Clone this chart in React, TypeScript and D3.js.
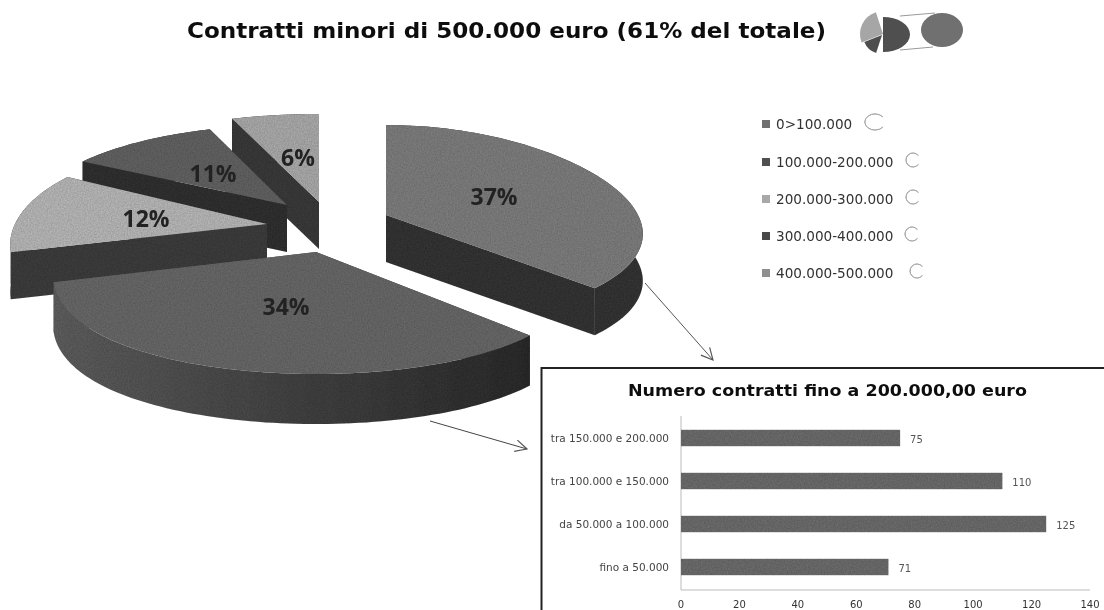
import React from "react";
import * as d3 from "d3";

const title = "Contratti minori di 500.000 euro (61% del totale)";
const pieLabels = ["37%", "34%", "12%", "11%", "6%"];
const pieValues = [37, 34, 12, 11, 6];
const pieTop = ["#7d7d7d", "#686868", "#b6b6b6", "#626262", "#a9a9a9"];
const pieWall = ["#363636", "url(#wall34)", "#3c3c3c", "#323232", "#3a3a3a"];
const pieApex: [number, number][] = [[386, 215], [316, 252], [267, 224], [287, 205], [319, 202]];
const pieRx = [252, 258, 252, 258, 290];
const pieRy = [100, 122, 108, 100, 110];
const pieKy = [0.1, 0, 0.2, 0.2, 0.2];
const pieDepth = [47, 50, 47, 47, 47];
const pieLabelPos: [number, number][] = [[494, 197], [286, 307], [146, 219], [213, 174], [298, 158]];
const drawOrder = [4, 3, 2, 0, 1];

const legendLabels = ["0>100.000", "100.000-200.000", "200.000-300.000", "300.000-400.000", "400.000-500.000"];
const legendColors = ["#6f6f6f", "#4f4f4f", "#a8a8a8", "#4a4a4a", "#8f8f8f"];
const legendY = [124, 162, 199, 236, 273];
const legendArcX = [875, 913, 913, 912, 917];

const barTitle = "Numero contratti fino a 200.000,00 euro";
const barCats = ["tra 150.000 e 200.000", "tra 100.000 e 150.000", "da 50.000 a 100.000", "fino a 50.000"];
const barVals = [75, 110, 125, 71];
const xTicks = [0, 20, 40, 60, 80, 100, 120, 140];

const FONT = "'DejaVu Sans', sans-serif";
const K = 0.2;

function proj(a: number, i: number, dy = 0): [number, number] {
  const [cx, cy] = pieApex[i];
  const p = -Math.cos(a);
  return [cx + pieRx[i] * Math.sin(a) * (1 + K * p), cy + pieRy[i] * p * (1 + pieKy[i] * p) + dy];
}
const line = d3.line<[number, number]>();
const arcs = d3.pie<number>().sort(null)(pieValues);

function samples(a0: number, a1: number, i: number, dy = 0) {
  const n = Math.max(8, Math.round((a1 - a0) * 40));
  return d3.range(n + 1).map(j => proj(a0 + ((a1 - a0) * j) / n, i, dy));
}

function Slice({ i }: { i: number }) {
  const { startAngle: a0, endAngle: a1 } = arcs[i];
  const [cx, cy] = pieApex[i];
  const d = pieDepth[i];
  const top = [[cx, cy] as [number, number], ...samples(a0, a1, i)];
  const outer = [...samples(a0, a1, i), ...samples(a0, a1, i, d).reverse()];
  const edge = (a: number) => {
    const p = proj(a, i);
    return [[cx, cy], p, [p[0], p[1] + d], [cx, cy + d]] as [number, number][];
  };
  return (
    <g>
      <path d={line(edge(a0))! + "Z"} fill={i === 1 ? "#333" : pieWall[i]} />
      <path d={line(edge(a1))! + "Z"} fill={i === 1 ? "#555" : pieWall[i]} />
      <path d={line(outer)! + "Z"} fill={pieWall[i]} />
      <path d={line(top)! + "Z"} fill={pieTop[i]} />
    </g>
  );
}

const cArc = d3.arc<any>();

export default function App() {
  const x = d3.scaleLinear().domain([0, 140]).range([681, 1090]);
  const y = d3.scaleBand<string>().domain(barCats).range([416.5, 588.5]).paddingInner(0.62).paddingOuter(0.31);
  return (
    <svg width={1104} height={610} style={{ position: "absolute", left: 0, top: 0, background: "#fff" }} fontFamily={FONT}>
      <defs>
        <linearGradient id="wall34" gradientUnits="userSpaceOnUse" x1={55} x2={527} y1={0} y2={0}>
          <stop offset="0" stopColor="#5e5e5e" />
          <stop offset="0.5" stopColor="#434343" />
          <stop offset="1" stopColor="#2c2c2c" />
        </linearGradient>
        <filter id="soft" x="-2%" y="-2%" width="104%" height="104%">
          <feGaussianBlur stdDeviation="0.65" />
        </filter>
        <filter id="grain" x="0" y="0" width="100%" height="100%">
          <feTurbulence type="fractalNoise" baseFrequency="0.7" numOctaves={2} seed={3} result="n" />
          <feColorMatrix in="n" type="matrix" values="0 0 0 0 0  0 0 0 0 0  0 0 0 0 0  0.5 0 0 0 -0.12" result="a" />
          <feComposite in="a" in2="SourceAlpha" operator="in" result="g" />
          <feMerge>
            <feMergeNode in="SourceGraphic" />
            <feMergeNode in="g" />
          </feMerge>
          <feGaussianBlur stdDeviation="0.6" />
        </filter>
        <marker id="head" viewBox="0 0 12 12" refX="11" refY="6" markerWidth="14" markerHeight="14" orient="auto" markerUnits="userSpaceOnUse">
          <path d="M1,1 L11,6 L1,11" fill="none" stroke="#555" strokeWidth="1" />
        </marker>
      </defs>

      <g filter="url(#soft)">
        <text x={187} y={38} fontSize={20.5} fontWeight={700} fill="#111" textLength={639} lengthAdjust="spacingAndGlyphs">{title}</text>

        <g>
          <path d={cArc({ innerRadius: 0, outerRadius: 23, startAngle: -Math.PI * 0.62, endAngle: -Math.PI * 0.1 })!} fill="#a6a6a6" transform="translate(883,34)" />
          <path d={cArc({ innerRadius: 0, outerRadius: 19, startAngle: -Math.PI * 0.9, endAngle: -Math.PI * 0.62 })!} fill="#4d4d4d" transform="translate(882,35)" />
          <path d={cArc({ innerRadius: 0, outerRadius: 27, startAngle: 0, endAngle: Math.PI })!} fill="#4f4f4f" transform="translate(883,34.5) scale(1,0.65)" />
          <ellipse cx={942} cy={30} rx={21} ry={17} fill="#6f6f6f" />
          <path d="M900,16L935,13M900,50L933,47" stroke="#999" strokeWidth={1} fill="none" />
        </g>
      </g>

      <g filter="url(#grain)">
        {drawOrder.map(i => <Slice key={i} i={i} />)}
      </g>
      <g filter="url(#soft)">
        {pieLabels.map((t, i) => (
          <text key={t} x={pieLabelPos[i][0]} y={pieLabelPos[i][1]} dy="0.35em" textAnchor="middle" fontSize={23} fontWeight={700} fontFamily="'Open Sans', sans-serif" fill="#222">{t}</text>
        ))}

        {legendLabels.map((t, i) => (
          <g key={t}>
            <rect x={762} y={legendY[i] - 4} width={8} height={8} fill={legendColors[i]} />
            <text x={776} y={legendY[i]} dy="0.35em" fontSize={13.6} fill="#333">{t}</text>
            <path
              d={cArc({ innerRadius: 7, outerRadius: 7, startAngle: Math.PI * 0.72, endAngle: Math.PI * 2.28 })!}
              transform={`translate(${legendArcX[i]},${legendY[i] - 2}) scale(${i === 0 ? 1.45 : 1},${i === 0 ? 1.15 : 1})`}
              fill="none" stroke="#aaa" strokeWidth={1} vectorEffect="non-scaling-stroke"
            />
          </g>
        ))}

        <path d={line([[645, 283], [713, 360]])!} stroke="#555" fill="none" markerEnd="url(#head)" />
        <path d={line([[430, 421], [527, 449]])!} stroke="#444" fill="none" markerEnd="url(#head)" />

        <rect x={541.5} y={368} width={600} height={300} fill="#fff" stroke="#222" strokeWidth={2} />
        <text x={628} y={396} fontSize={15} fontWeight={700} fill="#111" textLength={399} lengthAdjust="spacingAndGlyphs">{barTitle}</text>

        <line x1={x(0)} x2={x(0)} y1={416} y2={590} stroke="#bbb" />
        <line x1={x(0)} x2={x(140)} y1={590} y2={590} stroke="#bbb" />
        {xTicks.map(t => (
          <text key={t} x={x(t)} y={604} dy="0.35em" textAnchor="middle" fontSize={10} fill="#333">{t}</text>
        ))}
        {barCats.map((c, i) => (
          <g key={c}>
            <text x={669} y={y(c)! + y.bandwidth() / 2} dy="0.35em" textAnchor="end" fontSize={10.5} fill="#444">{c}</text>
            <text x={x(barVals[i]) + 10} y={y(c)! + y.bandwidth() / 2 + 1} dy="0.35em" fontSize={10} fill="#555">{barVals[i]}</text>
          </g>
        ))}
      </g>
      <g filter="url(#grain)">
        {barCats.map((c, i) => (
          <rect key={c} x={x(0)} y={y(c)!} width={x(barVals[i]) - x(0)} height={y.bandwidth()} fill="#6c6c6c" />
        ))}
      </g>
    </svg>
  );
}
